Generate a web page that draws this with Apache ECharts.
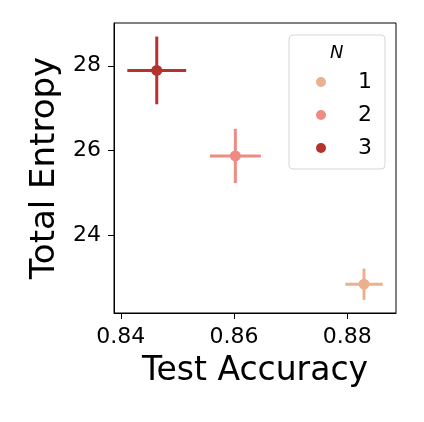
<!DOCTYPE html>
<html>
<head>
<meta charset="utf-8">
<script src="https://cdn.jsdelivr.net/npm/echarts@6/dist/echarts.min.js"></script>
<style>
  html, body { margin: 0; padding: 0; background: #fff; }
  #chart { width: 424px; height: 422px; }
</style>
</head>
<body>
<div id="chart"></div>
<script>
// values
const nLabels = ['1', '2', '3']
const accMean = [0.88295, 0.86023, 0.84635]
const accErr = [0.0033, 0.0045, 0.0052]
const entMean = [22.84, 25.87, 27.89]
const entErr = [0.37, 0.64, 0.80]
const xTicks = [0.84, 0.86, 0.88]
const yTicks = [24, 26, 28]

const colors = ['#EDB08E', '#EE8C83', '#B5322F']
const font = 'DejaVu Sans'

const chart = echarts.init(document.getElementById('chart'))

function errorBars(api) {
  const x = api.value(0)
  const y = api.value(1)
  const dx = api.value(2)
  const dy = api.value(3)
  const l = api.coord([x - dx, y])
  const r = api.coord([x + dx, y])
  const t = api.coord([x, y + dy])
  const b = api.coord([x, y - dy])
  const style = { stroke: api.visual('color'), lineWidth: 3 }
  return {
    type: 'group',
    children: [
      { type: 'line', shape: { x1: l[0], y1: l[1], x2: r[0], y2: r[1] }, style },
      { type: 'line', shape: { x1: t[0], y1: t[1], x2: b[0], y2: b[1] }, style }
    ]
  }
}

const series = []
nLabels.forEach((n, i) => {
  series.push({
    name: n + '_err',
    type: 'custom',
    renderItem: (params, api) => errorBars(api),
    itemStyle: { color: colors[i] },
    data: [[accMean[i], entMean[i], accErr[i], entErr[i]]],
    silent: true,
    z: 2
  })
  series.push({
    name: n,
    type: 'scatter',
    symbol: 'circle',
    symbolSize: 11,
    itemStyle: { color: colors[i], opacity: 1 },
    data: [[accMean[i], entMean[i]]],
    z: 3
  })
})

const option = {
  animation: false,
  backgroundColor: '#fff',
  textStyle: { fontFamily: font },
  grid: {
    left: 114, right: 28, top: 23, bottom: 109,
    show: true, borderColor: '#000', borderWidth: 1
  },
  xAxis: {
    type: 'value',
    min: 0.8388,
    max: 0.8886,
    name: 'Test Accuracy',
    nameLocation: 'middle',
    nameGap: 42,
    nameTextStyle: { fontSize: 33, color: '#000', fontFamily: font },
    axisLine: { show: true, onZero: false, lineStyle: { color: '#000', width: 1 } },
    axisTick: { show: true, length: 6, customValues: xTicks, lineStyle: { color: '#000' } },
    axisLabel: {
      customValues: xTicks,
      formatter: v => v.toFixed(2),
      fontSize: 22, color: '#000', margin: 13, fontFamily: font
    },
    splitLine: { show: false }
  },
  yAxis: {
    type: 'value',
    min: 22.16,
    max: 29.01,
    name: 'Total Entropy',
    nameLocation: 'middle',
    nameGap: 50,
    nameTextStyle: { fontSize: 34, color: '#000', fontFamily: font },
    axisLine: { show: true, onZero: false, lineStyle: { color: '#000', width: 1 } },
    axisTick: { show: true, length: 6, customValues: yTicks, lineStyle: { color: '#000' } },
    axisLabel: {
      customValues: yTicks,
      formatter: v => String(v),
      fontSize: 22, color: '#000', margin: 13, fontFamily: font
    },
    splitLine: { show: false }
  },
  legend: {
    data: nLabels,
    orient: 'vertical',
    left: 289,
    top: 35,
    padding: [36, 13, 10, 27],
    itemGap: 11,
    itemWidth: 10,
    itemHeight: 10,
    icon: 'circle',
    borderColor: '#d6d6d6',
    borderWidth: 1,
    borderRadius: 4,
    backgroundColor: 'rgba(255,255,255,0.8)',
    textStyle: { fontSize: 22, color: '#000', fontFamily: font, padding: [0, 0, 0, 27] }
  },
  graphic: [{
    type: 'text',
    left: 330,
    top: 44,
    z: 100,
    style: { text: 'N', fontSize: 18, fontStyle: 'italic', fontFamily: font, fill: '#000' }
  }],
  series
}

chart.setOption(option)
</script>
</body>
</html>
